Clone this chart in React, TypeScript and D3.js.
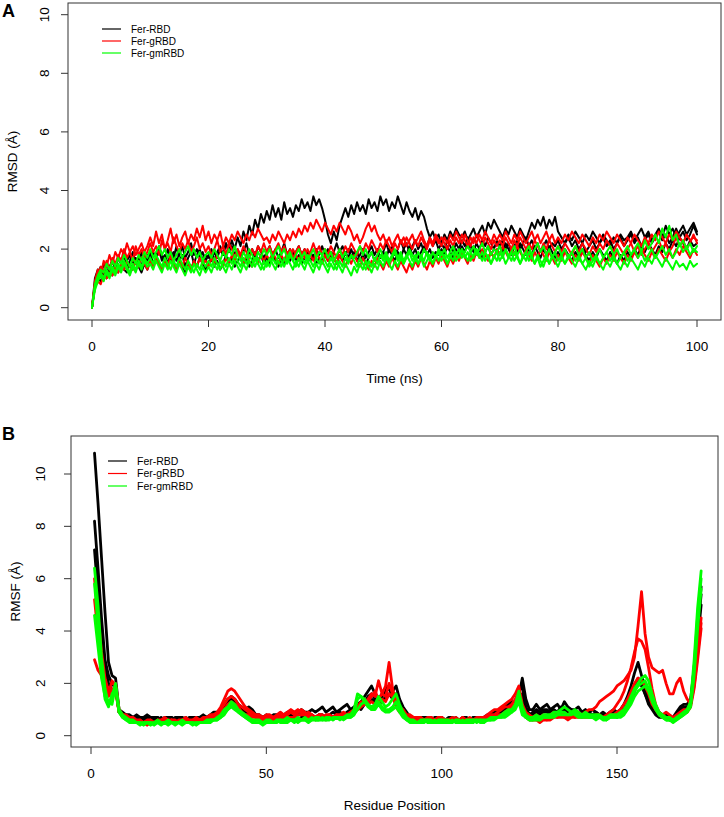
import React from 'react';
import * as d3 from 'd3';

// ---------- Data ----------
const seriesNames = ['Fer-RBD', 'Fer-gRBD', 'Fer-gmRBD'];
const seriesColors = ['#000000', '#ff0000', '#00ff00'];

const rmsdTimeStep = 0.5; // ns between samples
const rmsdTicksX = [0, 20, 40, 60, 80, 100];
const yTicks = [0, 2, 4, 6, 8, 10];
const rmsfTicksX = [0, 50, 100, 150];

// RMSD (Å), Fer-RBD replicates
const rmsdBlack1 = [
  0, 1.0, 1.3, 1.1, 1.5, 1.2, 1.4, 1.6, 1.3, 1.7, 1.5, 1.8, 1.4, 1.6, 1.9, 1.5, 1.7, 1.4, 1.8, 1.6,
  1.9, 1.5, 1.7, 2.0, 1.6, 1.8, 1.5, 1.9, 1.7, 2.1, 1.6, 1.8, 1.4, 1.7, 1.9, 1.5, 1.8, 2.0, 1.6, 1.8,
  1.7, 2.0, 1.6, 1.9, 2.1, 1.8, 2.2, 1.9, 2.3, 2.0, 2.4, 2.1, 2.6, 2.3, 2.8, 2.5, 3.0, 2.7, 3.2, 2.9,
  3.3, 3.0, 3.5, 3.1, 3.4, 3.0, 3.6, 3.2, 3.4, 3.1, 3.5, 3.3, 3.7, 3.4, 3.6, 3.3, 3.8, 3.5, 3.7, 3.4,
  3.0, 2.5, 2.2, 2.6, 2.3, 2.8, 3.1, 3.4, 3.1, 3.5, 3.2, 3.6, 3.3, 3.5, 3.2, 3.7, 3.4, 3.6, 3.3, 3.8,
  3.5, 3.7, 3.3, 3.6, 3.4, 3.8, 3.5, 3.2, 3.6, 3.3, 3.1, 3.4, 3.0, 3.3, 3.1, 2.7, 2.4, 2.6, 2.3, 2.5,
  2.2, 2.5, 2.3, 2.6, 2.4, 2.7, 2.5, 2.4, 2.6, 2.3, 2.5, 2.7, 2.4, 2.6, 2.8, 2.5, 2.9, 2.7, 3.0, 2.8,
  2.6, 2.4, 2.7, 2.5, 2.8, 2.6, 2.4, 2.7, 2.5, 2.3, 2.6, 2.9, 2.7, 3.0, 2.8, 3.1, 2.7, 3.0, 2.8, 3.1,
  2.6, 2.4, 2.2, 2.5, 2.3, 2.6, 2.4, 2.2, 2.5, 2.3, 2.6, 2.4, 2.2, 2.5, 2.3, 2.1, 2.4, 2.2, 2.5, 2.3,
  2.4, 2.6, 2.3, 2.5, 2.7, 2.4, 2.6, 2.3, 2.5, 2.7, 2.4, 2.8, 2.5, 2.7, 2.4, 2.6, 2.8, 2.5, 2.7, 2.9,
  2.6,
];
const rmsdBlack2 = [
  0, 0.8, 1.2, 1.4, 1.1, 1.5, 1.3, 1.6, 1.4, 1.7, 1.5, 1.3, 1.6, 1.8, 1.5, 1.7, 1.4, 1.9, 1.6, 1.8,
  1.6, 1.9, 1.7, 2.1, 1.8, 1.6, 2.0, 1.7, 1.9, 1.6, 1.8, 2.1, 1.7, 1.9, 2.2, 1.8, 2.0, 1.7, 1.9, 1.6,
  1.8, 1.6, 1.9, 1.7, 2.0, 1.8, 2.2, 1.9, 2.1, 1.8, 2.0, 1.7, 1.9, 2.2, 1.8, 2.0, 1.7, 2.1, 1.9, 1.7,
  1.9, 2.1, 1.8, 2.0, 1.7, 1.9, 2.2, 1.8, 2.0, 1.7, 1.9, 2.1, 1.8, 2.0, 1.6, 1.9, 1.7, 2.0, 1.8, 2.1,
  1.8, 2.0, 1.7, 1.9, 2.2, 1.9, 2.1, 1.8, 2.0, 1.7, 1.9, 1.6, 1.8, 2.0, 1.7, 1.9, 2.1, 1.8, 2.0, 1.7,
  1.9, 2.2, 1.9, 2.1, 1.8, 2.0, 2.3, 2.0, 2.2, 1.9, 2.1, 2.3, 2.0, 2.2, 1.9, 2.1, 2.4, 2.1, 2.3, 2.0,
  2.2, 2.0, 2.3, 2.1, 1.9, 2.2, 2.0, 2.3, 2.1, 2.4, 2.1, 1.9, 2.2, 2.0, 2.3, 2.1, 2.4, 2.2, 2.0, 2.3,
  2.1, 2.3, 2.0, 2.2, 1.9, 2.1, 2.3, 2.0, 2.2, 2.4, 2.1, 2.3, 2.0, 2.2, 1.9, 2.1, 2.3, 2.0, 2.2, 2.1,
  2.3, 2.0, 2.2, 2.4, 2.1, 2.3, 2.0, 2.2, 1.9, 2.1, 2.3, 2.0, 2.2, 2.4, 2.1, 2.3, 2.0, 2.2, 2.4, 2.1,
  2.3, 2.5, 2.2, 2.4, 2.1, 2.3, 2.5, 2.2, 2.4, 2.6, 2.3, 2.5, 2.2, 2.4, 2.7, 2.4, 2.6, 2.3, 2.5, 2.8,
  2.5,
];
const rmsdBlack3 = [
  0, 0.7, 1.0, 0.9, 1.2, 1.0, 1.3, 1.1, 1.4, 1.2, 1.5, 1.3, 1.2, 1.5, 1.3, 1.6, 1.4, 1.2, 1.5, 1.3,
  1.6, 1.4, 1.7, 1.5, 1.3, 1.6, 1.4, 1.7, 1.5, 1.3, 1.6, 1.4, 1.2, 1.5, 1.3, 1.6, 1.4, 1.7, 1.5, 1.3,
  1.5, 1.7, 1.4, 1.6, 1.3, 1.5, 1.8, 1.5, 1.7, 1.4, 1.6, 1.8, 1.5, 1.7, 1.4, 1.6, 1.9, 1.6, 1.8, 1.5,
  1.7, 1.5, 1.8, 1.6, 1.4, 1.7, 1.5, 1.8, 1.6, 1.9, 1.6, 1.8, 1.5, 1.7, 1.9, 1.6, 1.8, 1.5, 1.7, 1.6,
  1.8, 1.6, 1.9, 1.7, 1.5, 1.8, 1.6, 1.9, 1.7, 2.0, 1.7, 1.9, 1.6, 1.8, 1.5, 1.7, 1.9, 1.6, 1.8, 1.7,
  1.9, 1.7, 2.0, 1.8, 1.6, 1.9, 1.7, 2.0, 1.8, 2.1, 1.8, 2.0, 1.7, 1.9, 2.1, 1.8, 2.0, 1.7, 1.9, 1.8,
  2.0, 1.8, 2.1, 1.9, 1.7, 2.0, 1.8, 2.1, 1.9, 2.2, 1.9, 2.1, 1.8, 2.0, 1.7, 1.9, 2.1, 1.8, 2.0, 1.9,
  2.1, 1.9, 2.2, 2.0, 1.8, 2.1, 1.9, 2.2, 2.0, 1.8, 2.0, 1.8, 2.1, 1.9, 1.7, 2.0, 1.8, 2.1, 1.9, 1.7,
  1.9, 1.7, 2.0, 1.8, 1.6, 1.9, 1.7, 2.0, 1.8, 1.6, 1.9, 1.7, 2.0, 1.8, 1.6, 1.9, 1.7, 1.5, 1.8, 1.6,
  1.9, 1.7, 2.0, 1.8, 2.1, 1.9, 2.2, 2.0, 1.8, 2.1, 1.9, 2.2, 2.0, 2.3, 2.1, 2.4, 2.2, 2.0, 2.3, 2.1,
  2.2,
];
// RMSD (Å), Fer-gRBD replicates
const rmsdRed1 = [
  0, 0.9, 1.3, 1.1, 1.6, 1.4, 1.8, 1.5, 1.9, 1.7, 2.0, 1.8, 2.2, 1.9, 2.1, 1.8, 2.0, 2.2, 1.9, 2.1,
  2.4, 2.1, 2.6, 2.2, 2.5, 2.0, 2.3, 2.7, 2.2, 2.5, 2.1, 2.4, 2.6, 2.2, 2.5, 2.3, 2.7, 2.4, 2.8, 2.3,
  2.6, 2.2, 2.5, 2.3, 2.6, 2.1, 2.4, 2.2, 2.5, 2.3, 2.6, 2.4, 2.2, 2.5, 2.3, 2.6, 2.4, 2.7, 2.5, 2.3,
  2.4, 2.2, 2.5, 2.3, 2.6, 2.4, 2.2, 2.5, 2.3, 2.6, 2.4, 2.7, 2.5, 2.8, 2.6, 2.9, 2.7, 3.0, 2.8, 2.6,
  2.9, 2.7, 2.5, 2.8, 2.6, 2.9, 2.7, 2.5, 2.8, 2.6, 2.3, 2.5, 2.2, 2.4, 2.7, 2.9, 2.6, 2.8, 2.5, 2.3,
  2.5, 2.2, 2.4, 2.1, 2.3, 2.5, 2.2, 2.4, 2.1, 2.3, 2.5, 2.2, 2.4, 2.6, 2.3, 2.1, 2.4, 2.2, 2.5, 2.3,
  2.1, 2.4, 2.2, 2.5, 2.3, 2.6, 2.4, 2.2, 2.5, 2.3, 2.1, 2.4, 2.2, 2.5, 2.3, 2.6, 2.4, 2.2, 2.5, 2.3,
  2.5, 2.3, 2.6, 2.4, 2.2, 2.5, 2.3, 2.6, 2.4, 2.2, 2.4, 2.6, 2.3, 2.5, 2.2, 2.4, 2.6, 2.3, 2.5, 2.2,
  2.4, 2.2, 2.5, 2.3, 2.6, 2.4, 2.2, 2.5, 2.3, 2.1, 2.4, 2.2, 2.5, 2.3, 2.6, 2.4, 2.2, 2.5, 2.3, 2.1,
  2.4, 2.2, 2.5, 2.3, 2.1, 2.4, 2.2, 2.5, 2.3, 2.6, 2.4, 2.2, 2.5, 2.3, 2.6, 2.4, 2.2, 2.5, 2.3, 2.4,
  2.3,
];
const rmsdRed2 = [
  0, 0.8, 1.1, 1.4, 1.2, 1.6, 1.3, 1.7, 1.5, 1.8, 1.6, 2.0, 1.7, 1.9, 1.6, 2.1, 1.8, 2.0, 1.7, 1.9,
  2.2, 1.9, 2.1, 1.8, 2.3, 2.0, 2.2, 1.9, 2.4, 2.1, 1.9, 2.2, 2.0, 2.3, 1.9, 2.1, 2.4, 2.0, 2.2, 1.9,
  2.1, 1.8, 2.0, 2.3, 1.9, 2.1, 1.8, 2.2, 2.0, 1.7, 2.0, 1.8, 2.1, 1.9, 1.7, 2.0, 1.8, 2.1, 1.9, 2.2,
  1.9, 2.1, 1.8, 2.0, 2.2, 1.9, 2.1, 1.8, 2.0, 1.7, 1.9, 2.1, 1.8, 2.0, 1.7, 1.9, 2.2, 1.9, 2.1, 1.8,
  2.0, 1.8, 2.1, 1.9, 1.7, 2.0, 1.8, 2.1, 1.9, 2.2, 2.0, 1.8, 2.1, 1.9, 2.2, 2.0, 2.3, 2.1, 1.9, 2.2,
  2.0, 2.3, 2.1, 1.9, 2.2, 2.0, 2.3, 2.1, 2.4, 2.2, 2.0, 2.3, 2.1, 2.4, 2.2, 2.0, 2.3, 2.1, 2.4, 2.2,
  2.4, 2.2, 2.0, 2.3, 2.1, 2.4, 2.2, 2.5, 2.3, 2.1, 2.4, 2.2, 2.5, 2.3, 2.1, 2.4, 2.2, 2.0, 2.3, 2.1,
  2.3, 2.1, 2.4, 2.2, 2.0, 2.3, 2.1, 2.4, 2.2, 2.0, 2.2, 2.0, 2.3, 2.1, 1.9, 2.2, 2.0, 2.3, 2.1, 1.9,
  2.1, 1.9, 2.2, 2.0, 1.8, 2.1, 1.9, 2.2, 2.0, 1.8, 2.1, 1.9, 2.2, 2.0, 2.3, 2.1, 1.9, 2.2, 2.0, 1.8,
  2.0, 2.2, 1.9, 2.1, 1.8, 2.0, 2.2, 1.9, 2.1, 2.3, 2.0, 2.2, 1.9, 2.1, 2.4, 2.1, 2.3, 2.0, 2.2, 2.5,
  2.2,
];
const rmsdRed3 = [
  0, 0.7, 0.9, 0.8, 1.1, 1.0, 1.2, 1.1, 1.4, 1.2, 1.5, 1.3, 1.6, 1.4, 1.3, 1.6, 1.4, 1.7, 1.5, 1.3,
  1.6, 1.4, 1.7, 1.5, 1.3, 1.6, 1.4, 1.8, 1.5, 1.3, 1.6, 1.4, 1.7, 1.5, 1.3, 1.6, 1.4, 1.7, 1.5, 1.6,
  1.4, 1.7, 1.5, 1.8, 1.6, 1.4, 1.7, 1.5, 1.8, 1.6, 1.9, 1.7, 1.5, 1.8, 1.6, 1.4, 1.7, 1.5, 1.8, 1.6,
  1.8, 1.6, 1.9, 1.7, 1.5, 1.8, 1.6, 1.9, 1.7, 2.0, 1.8, 1.6, 1.9, 1.7, 2.0, 1.8, 1.6, 1.9, 1.7, 1.5,
  1.8, 1.6, 1.9, 1.7, 1.5, 1.8, 1.6, 1.4, 1.7, 1.5, 1.8, 1.6, 1.4, 1.7, 1.5, 1.3, 1.6, 1.4, 1.7, 1.5,
  1.3, 1.6, 1.4, 1.7, 1.5, 1.3, 1.6, 1.4, 1.2, 1.5, 1.3, 1.6, 1.4, 1.7, 1.5, 1.3, 1.6, 1.4, 1.7, 1.5,
  1.8, 1.6, 1.4, 1.7, 1.5, 1.8, 1.6, 1.9, 1.7, 1.5, 1.8, 1.6, 1.9, 1.7, 2.0, 1.8, 1.6, 1.9, 1.7, 2.0,
  1.8, 2.1, 1.9, 1.7, 2.0, 1.8, 2.1, 1.9, 1.7, 2.0, 1.8, 1.6, 1.9, 1.7, 2.0, 1.8, 1.6, 1.9, 1.7, 1.5,
  1.8, 1.6, 1.9, 1.7, 1.5, 1.8, 1.6, 1.9, 1.7, 1.5, 1.8, 1.6, 1.4, 1.7, 1.5, 1.8, 1.6, 1.9, 1.7, 1.5,
  1.8, 1.6, 1.9, 1.7, 2.0, 1.8, 1.6, 1.9, 1.7, 2.0, 1.8, 1.6, 1.9, 1.7, 2.0, 1.8, 2.1, 1.9, 1.7, 2.0,
  1.8,
];
// RMSD (Å), Fer-gmRBD replicates
const rmsdGreen1 = [
  0, 0.8, 1.1, 1.3, 1.2, 1.5, 1.3, 1.6, 1.4, 1.7, 1.5, 1.8, 1.6, 1.4, 1.7, 1.5, 1.8, 1.6, 1.9, 1.7,
  2.0, 1.7, 1.9, 2.1, 1.8, 2.0, 1.7, 1.9, 1.6, 1.8, 2.0, 1.7, 1.9, 2.1, 1.8, 2.0, 1.7, 1.9, 1.6, 1.8,
  1.9, 1.7, 2.0, 1.8, 1.6, 1.9, 1.7, 2.0, 1.8, 2.1, 1.8, 1.6, 1.9, 1.7, 2.0, 1.8, 1.6, 1.9, 1.7, 2.0,
  1.8, 2.0, 1.7, 1.9, 2.1, 1.8, 2.0, 1.7, 1.9, 1.6, 1.8, 2.0, 1.7, 1.9, 1.6, 1.8, 2.0, 1.7, 1.9, 1.8,
  2.0, 1.7, 1.9, 1.6, 1.8, 2.0, 1.7, 1.9, 1.6, 1.8, 1.7, 1.9, 2.1, 1.8, 2.0, 1.7, 1.9, 1.6, 1.8, 2.0,
  1.7, 1.9, 1.6, 1.8, 2.0, 1.7, 1.9, 1.6, 1.8, 2.0, 1.8, 1.6, 1.9, 1.7, 2.0, 1.8, 1.6, 1.9, 1.7, 2.0,
  1.8, 2.0, 1.7, 1.9, 2.1, 1.8, 2.0, 1.7, 1.9, 2.1, 1.9, 2.1, 1.8, 2.0, 2.2, 1.9, 2.1, 1.8, 2.0, 1.9,
  2.1, 1.8, 2.0, 1.7, 1.9, 2.1, 1.8, 2.0, 1.7, 1.9, 2.1, 1.8, 2.0, 2.2, 1.9, 2.1, 1.8, 2.0, 1.7, 1.9,
  2.1, 1.8, 2.0, 1.7, 1.9, 2.1, 1.8, 2.0, 1.7, 1.9, 1.6, 1.8, 2.0, 1.7, 1.9, 2.1, 1.8, 2.0, 1.7, 1.9,
  2.1, 1.8, 2.0, 2.2, 1.9, 2.3, 2.0, 2.2, 2.5, 2.2, 2.7, 2.4, 2.8, 2.3, 2.5, 2.1, 2.3, 2.0, 2.2, 1.9,
  2.1,
];
const rmsdGreen2 = [
  0, 0.7, 1.0, 1.2, 1.0, 1.3, 1.1, 1.4, 1.2, 1.5, 1.3, 1.6, 1.4, 1.2, 1.5, 1.3, 1.6, 1.4, 1.7, 1.5,
  1.7, 1.5, 1.8, 1.6, 1.4, 1.7, 1.5, 1.3, 1.6, 1.4, 1.7, 1.5, 1.3, 1.6, 1.4, 1.2, 1.5, 1.3, 1.6, 1.4,
  1.6, 1.4, 1.7, 1.5, 1.3, 1.6, 1.4, 1.7, 1.5, 1.8, 1.6, 1.4, 1.7, 1.5, 1.8, 1.6, 1.4, 1.7, 1.5, 1.3,
  1.6, 1.4, 1.7, 1.5, 1.8, 1.6, 1.4, 1.7, 1.5, 1.3, 1.6, 1.4, 1.7, 1.5, 1.8, 1.6, 1.4, 1.7, 1.5, 1.8,
  1.6, 1.4, 1.7, 1.5, 1.3, 1.6, 1.4, 1.7, 1.5, 1.8, 1.6, 1.4, 1.7, 1.5, 1.3, 1.6, 1.4, 1.7, 1.5, 1.8,
  1.6, 1.8, 1.5, 1.7, 1.9, 1.6, 1.8, 1.5, 1.7, 1.9, 1.6, 1.8, 1.5, 1.7, 1.4, 1.6, 1.8, 1.5, 1.7, 1.9,
  1.6, 1.8, 1.5, 1.7, 1.9, 1.6, 1.8, 2.0, 1.7, 1.9, 1.6, 1.8, 2.0, 1.7, 1.9, 1.6, 1.8, 1.5, 1.7, 1.9,
  1.6, 1.8, 1.5, 1.7, 1.9, 1.6, 1.8, 1.5, 1.7, 1.9, 1.6, 1.8, 1.5, 1.7, 1.4, 1.6, 1.8, 1.5, 1.7, 1.9,
  1.6, 1.8, 1.5, 1.7, 1.9, 1.6, 1.8, 1.5, 1.7, 1.4, 1.6, 1.8, 1.5, 1.7, 1.9, 1.6, 1.8, 1.5, 1.7, 1.9,
  1.6, 1.8, 2.0, 1.7, 1.9, 1.6, 1.8, 2.0, 1.7, 1.9, 2.1, 1.8, 2.0, 1.7, 1.9, 2.2, 1.9, 2.1, 1.8, 2.0,
  1.9,
];
const rmsdGreen3 = [
  0, 0.6, 0.9, 1.1, 0.9, 1.2, 1.0, 1.3, 1.1, 1.4, 1.2, 1.5, 1.3, 1.1, 1.4, 1.2, 1.5, 1.3, 1.6, 1.4,
  1.5, 1.3, 1.6, 1.4, 1.2, 1.5, 1.3, 1.6, 1.4, 1.2, 1.5, 1.3, 1.1, 1.4, 1.2, 1.5, 1.3, 1.1, 1.4, 1.2,
  1.4, 1.2, 1.5, 1.3, 1.6, 1.4, 1.2, 1.5, 1.3, 1.6, 1.4, 1.2, 1.5, 1.3, 1.6, 1.4, 1.7, 1.5, 1.3, 1.6,
  1.4, 1.7, 1.5, 1.3, 1.6, 1.4, 1.7, 1.5, 1.8, 1.6, 1.4, 1.7, 1.5, 1.3, 1.6, 1.4, 1.2, 1.5, 1.3, 1.6,
  1.4, 1.2, 1.5, 1.3, 1.6, 1.4, 1.2, 1.5, 1.3, 1.1, 1.4, 1.2, 1.5, 1.3, 1.6, 1.4, 1.2, 1.5, 1.3, 1.6,
  1.4, 1.7, 1.5, 1.3, 1.6, 1.4, 1.7, 1.5, 1.8, 1.6, 1.4, 1.7, 1.5, 1.8, 1.6, 1.9, 1.7, 1.5, 1.8, 1.6,
  1.9, 1.7, 1.5, 1.8, 1.6, 1.9, 1.7, 2.0, 1.8, 1.6, 1.9, 1.7, 2.0, 1.8, 1.6, 1.9, 1.7, 1.5, 1.8, 1.6,
  1.9, 1.7, 2.0, 1.8, 1.6, 1.9, 1.7, 1.5, 1.8, 1.6, 1.9, 1.7, 1.5, 1.8, 1.6, 1.4, 1.7, 1.5, 1.8, 1.6,
  1.4, 1.7, 1.5, 1.8, 1.6, 1.4, 1.7, 1.5, 1.3, 1.6, 1.4, 1.7, 1.5, 1.3, 1.6, 1.4, 1.7, 1.5, 1.3, 1.6,
  1.4, 1.7, 1.5, 1.3, 1.6, 1.4, 1.7, 1.5, 1.8, 1.6, 1.4, 1.7, 1.5, 1.3, 1.6, 1.4, 1.5, 1.3, 1.6, 1.4,
  1.5,
];

// RMSF (Å) per residue (residue 1..174)
const rmsfBlack1 = [
  10.8, 8.9, 6.8, 4.7, 2.8, 2.3, 2.2, 1.0, 0.9, 0.8,
  0.8, 0.7, 0.8, 0.7, 0.7, 0.8, 0.7, 0.7, 0.7, 0.6,
  0.7, 0.7, 0.6, 0.7, 0.7, 0.7, 0.6, 0.7, 0.7, 0.7,
  0.7, 0.8, 0.7, 0.8, 0.9, 0.9, 1.0, 1.2, 1.4, 1.5,
  1.4, 1.2, 1.1, 1.0, 1.1, 1.0, 0.8, 0.8, 0.7, 0.8,
  0.7, 0.8, 0.8, 0.7, 0.8, 0.9, 0.8, 0.9, 0.9, 1.0,
  0.9, 0.9, 1.0, 0.9, 1.0, 1.1, 0.9, 1.0, 1.1, 0.9,
  1.0, 1.1, 1.2, 1.0, 1.1, 1.2, 1.3, 1.5, 1.7, 1.9,
  1.6, 1.4, 1.6, 1.8, 1.9, 1.7, 1.9, 1.4, 1.1, 0.9,
  0.7, 0.7, 0.6, 0.7, 0.7, 0.7, 0.6, 0.7, 0.7, 0.7,
  0.6, 0.7, 0.7, 0.6, 0.6, 0.7, 0.7, 0.6, 0.7, 0.7,
  0.7, 0.7, 0.8, 0.8, 0.9, 0.9, 1.0, 1.1, 1.2, 1.3,
  1.3, 1.5, 2.2, 1.4, 1.0, 1.0, 1.2, 1.0, 1.1, 1.2,
  1.0, 1.1, 1.2, 1.0, 1.3, 1.1, 1.0, 1.0, 1.1, 0.9,
  1.0, 0.9, 1.0, 0.9, 0.8, 0.9, 0.8, 0.9, 1.0, 0.9,
  1.0, 1.2, 1.5, 1.9, 2.4, 2.8, 2.3, 1.8, 1.5, 1.2,
  1.0, 0.9, 0.8, 0.8, 0.7, 0.7, 0.9, 1.1, 1.2, 1.2,
  1.4, 2.6, 4.2, 5.7,
];
const rmsfBlack2 = [
  8.2, 6.4, 4.5, 2.9, 2.3, 2.0, 1.8, 0.9, 0.8, 0.8,
  0.7, 0.7, 0.7, 0.6, 0.7, 0.7, 0.6, 0.7, 0.6, 0.7,
  0.6, 0.7, 0.7, 0.6, 0.7, 0.6, 0.7, 0.6, 0.7, 0.6,
  0.7, 0.7, 0.6, 0.7, 0.8, 0.8, 0.9, 1.1, 1.3, 1.4,
  1.3, 1.1, 1.0, 0.9, 1.0, 0.9, 0.8, 0.7, 0.7, 0.6,
  0.7, 0.7, 0.6, 0.7, 0.7, 0.7, 0.8, 0.7, 0.8, 0.8,
  0.7, 0.8, 0.8, 0.7, 0.8, 0.8, 0.7, 0.8, 0.9, 0.8,
  0.9, 0.8, 0.9, 1.0, 0.9, 1.1, 1.2, 1.3, 1.5, 1.6,
  1.4, 1.3, 1.5, 1.7, 1.8, 1.5, 1.6, 1.2, 1.0, 0.8,
  0.7, 0.6, 0.6, 0.7, 0.6, 0.6, 0.7, 0.6, 0.6, 0.7,
  0.6, 0.6, 0.7, 0.6, 0.6, 0.6, 0.7, 0.6, 0.6, 0.7,
  0.6, 0.7, 0.7, 0.7, 0.8, 0.8, 0.9, 1.0, 1.1, 1.1,
  1.2, 1.7, 1.9, 1.1, 0.8, 0.9, 1.0, 0.9, 1.0, 1.0,
  0.9, 1.0, 0.9, 1.1, 1.0, 0.9, 1.0, 0.9, 0.9, 0.8,
  0.9, 0.9, 0.8, 0.9, 0.8, 0.8, 0.7, 0.8, 0.9, 0.8,
  0.9, 1.0, 1.2, 1.5, 1.9, 2.2, 2.0, 1.6, 1.3, 1.1,
  0.9, 0.8, 0.8, 0.7, 0.7, 0.6, 0.8, 1.0, 1.1, 1.1,
  1.3, 2.4, 4.0, 5.4,
];
const rmsfBlack3 = [
  7.1, 5.4, 3.8, 2.6, 2.0, 1.7, 1.9, 0.9, 0.8, 0.7,
  0.7, 0.6, 0.7, 0.6, 0.6, 0.7, 0.6, 0.6, 0.7, 0.6,
  0.6, 0.6, 0.7, 0.6, 0.6, 0.7, 0.6, 0.6, 0.6, 0.7,
  0.6, 0.7, 0.7, 0.6, 0.7, 0.7, 0.8, 1.0, 1.1, 1.3,
  1.2, 1.0, 0.9, 0.8, 0.9, 0.8, 0.7, 0.6, 0.6, 0.6,
  0.6, 0.6, 0.7, 0.6, 0.7, 0.6, 0.7, 0.7, 0.6, 0.7,
  0.7, 0.6, 0.7, 0.7, 0.8, 0.7, 0.7, 0.8, 0.7, 0.8,
  0.8, 0.7, 0.8, 0.9, 1.0, 1.1, 1.0, 1.2, 1.3, 1.4,
  1.3, 1.2, 1.3, 1.5, 1.6, 1.4, 1.3, 1.1, 0.9, 0.7,
  0.6, 0.6, 0.6, 0.6, 0.7, 0.6, 0.6, 0.6, 0.7, 0.6,
  0.6, 0.6, 0.6, 0.7, 0.6, 0.6, 0.6, 0.6, 0.7, 0.6,
  0.6, 0.6, 0.7, 0.7, 0.7, 0.8, 0.8, 0.9, 1.0, 1.0,
  1.1, 1.4, 1.6, 1.0, 0.8, 0.8, 0.9, 0.8, 0.9, 0.9,
  0.8, 0.9, 0.9, 1.0, 0.9, 0.8, 0.9, 0.8, 0.8, 0.8,
  0.8, 0.8, 0.7, 0.8, 0.8, 0.7, 0.7, 0.8, 0.8, 0.7,
  0.8, 0.9, 1.1, 1.3, 1.7, 2.0, 1.9, 1.6, 1.2, 1.0,
  0.8, 0.7, 0.7, 0.7, 0.6, 0.6, 0.7, 0.9, 1.0, 1.0,
  1.2, 2.2, 3.6, 5.0,
];
const rmsfRed1 = [
  2.9, 2.5, 2.3, 1.8, 1.6, 2.1, 1.9, 0.9, 0.8, 0.8,
  0.7, 0.7, 0.6, 0.6, 0.5, 0.6, 0.6, 0.5, 0.6, 0.6,
  0.7, 0.6, 0.6, 0.5, 0.6, 0.6, 0.7, 0.6, 0.6, 0.7,
  0.6, 0.7, 0.7, 0.8, 0.8, 0.9, 1.1, 1.4, 1.7, 1.8,
  1.7, 1.5, 1.3, 1.1, 1.0, 0.9, 0.8, 0.8, 0.7, 0.8,
  0.8, 0.7, 0.8, 0.9, 0.8, 0.9, 1.0, 0.9, 1.0, 0.9,
  0.8, 0.9, 0.8, 0.7, 0.8, 0.7, 0.8, 0.8, 0.7, 0.8,
  0.8, 0.9, 0.8, 0.9, 1.0, 1.1, 1.3, 1.2, 1.4, 1.6,
  1.5, 2.1, 1.6, 1.9, 2.8, 1.8, 1.3, 1.1, 1.0, 0.8,
  0.8, 0.7, 0.7, 0.7, 0.6, 0.7, 0.7, 0.6, 0.7, 0.7,
  0.6, 0.6, 0.7, 0.6, 0.6, 0.7, 0.6, 0.6, 0.6, 0.7,
  0.7, 0.7, 0.8, 0.9, 1.0, 1.0, 1.1, 1.2, 1.3, 1.4,
  1.6, 1.9, 1.2, 0.9, 0.8, 0.7, 0.8, 0.7, 0.8, 0.7,
  0.8, 0.9, 0.8, 0.9, 0.8, 0.8, 0.9, 0.8, 0.9, 0.8,
  0.9, 1.0, 1.0, 1.1, 1.3, 1.4, 1.5, 1.6, 1.7, 1.9,
  2.0, 2.1, 2.3, 2.5, 3.0, 4.2, 5.5, 3.9, 3.0, 2.6,
  2.5, 2.4, 2.5, 2.0, 1.6, 1.6, 2.0, 2.2, 1.7, 1.4,
  1.2, 1.9, 3.1, 4.3,
];
const rmsfRed2 = [
  6.0, 4.6, 3.2, 2.2, 1.7, 1.5, 2.0, 1.0, 0.8, 0.7,
  0.6, 0.6, 0.5, 0.6, 0.5, 0.5, 0.6, 0.5, 0.6, 0.5,
  0.6, 0.5, 0.6, 0.6, 0.5, 0.6, 0.6, 0.5, 0.6, 0.6,
  0.6, 0.6, 0.7, 0.7, 0.8, 0.8, 1.0, 1.2, 1.4, 1.5,
  1.4, 1.2, 1.1, 1.0, 0.9, 0.8, 0.7, 0.7, 0.6, 0.7,
  0.7, 0.6, 0.7, 0.8, 0.7, 0.8, 0.9, 0.8, 0.9, 1.0,
  0.9, 0.8, 0.8, 0.7, 0.8, 0.8, 0.7, 0.8, 0.7, 0.8,
  0.7, 0.8, 0.8, 0.9, 0.9, 1.0, 1.2, 1.4, 1.3, 1.5,
  1.7, 1.4, 1.6, 1.5, 2.0, 1.6, 1.2, 1.0, 0.9, 0.7,
  0.7, 0.6, 0.6, 0.7, 0.6, 0.6, 0.7, 0.6, 0.6, 0.7,
  0.6, 0.6, 0.6, 0.7, 0.6, 0.6, 0.6, 0.7, 0.6, 0.6,
  0.6, 0.7, 0.7, 0.8, 0.8, 0.9, 1.0, 1.1, 1.1, 1.2,
  1.4, 1.7, 1.0, 0.8, 0.7, 0.6, 0.7, 0.6, 0.7, 0.6,
  0.7, 0.8, 0.7, 0.8, 0.7, 0.7, 0.8, 0.7, 0.8, 0.7,
  0.8, 0.8, 0.7, 0.8, 0.8, 0.7, 0.8, 0.9, 1.0, 1.2,
  1.4, 1.7, 2.1, 2.6, 3.2, 3.7, 3.6, 3.3, 2.6, 1.8,
  1.2, 0.9, 0.8, 0.9, 0.8, 0.7, 0.8, 0.9, 1.0, 1.0,
  1.2, 2.0, 3.2, 4.5,
];
const rmsfRed3 = [
  5.2, 3.9, 2.7, 2.0, 1.5, 1.8, 1.7, 0.9, 0.8, 0.7,
  0.6, 0.5, 0.5, 0.5, 0.5, 0.4, 0.5, 0.5, 0.5, 0.5,
  0.5, 0.5, 0.6, 0.5, 0.5, 0.5, 0.6, 0.5, 0.5, 0.6,
  0.5, 0.6, 0.6, 0.6, 0.7, 0.7, 0.9, 1.0, 1.2, 1.3,
  1.2, 1.1, 0.9, 0.8, 0.8, 0.7, 0.7, 0.6, 0.6, 0.6,
  0.6, 0.6, 0.6, 0.7, 0.6, 0.7, 0.7, 0.7, 0.8, 0.8,
  0.8, 0.7, 0.7, 0.6, 0.7, 0.7, 0.6, 0.7, 0.7, 0.8,
  0.7, 0.7, 0.8, 0.8, 0.9, 1.0, 1.1, 1.2, 1.2, 1.3,
  1.2, 1.3, 1.4, 1.3, 1.6, 1.5, 1.1, 0.9, 0.8, 0.7,
  0.6, 0.6, 0.6, 0.6, 0.6, 0.6, 0.6, 0.6, 0.7, 0.6,
  0.6, 0.6, 0.6, 0.6, 0.6, 0.7, 0.6, 0.6, 0.6, 0.6,
  0.6, 0.6, 0.6, 0.7, 0.7, 0.8, 0.8, 0.9, 1.0, 1.1,
  1.2, 1.5, 0.9, 0.7, 0.6, 0.6, 0.6, 0.5, 0.6, 0.6,
  0.6, 0.7, 0.7, 0.7, 0.7, 0.6, 0.7, 0.7, 0.7, 0.7,
  0.7, 0.7, 0.7, 0.7, 0.7, 0.7, 0.7, 0.8, 0.8, 0.9,
  1.0, 1.2, 1.4, 1.7, 2.0, 2.2, 2.1, 1.9, 1.6, 1.2,
  1.0, 0.8, 0.7, 0.7, 0.6, 0.6, 0.7, 0.8, 0.9, 0.9,
  1.1, 1.8, 2.9, 4.1,
];
const rmsfGreen1 = [
  6.4, 5.0, 3.0, 1.8, 1.2, 1.5, 2.0, 1.0, 0.8, 0.7,
  0.6, 0.6, 0.5, 0.5, 0.5, 0.5, 0.5, 0.5, 0.6, 0.5,
  0.5, 0.6, 0.5, 0.5, 0.5, 0.6, 0.5, 0.5, 0.5, 0.5,
  0.5, 0.5, 0.6, 0.6, 0.6, 0.7, 0.8, 1.0, 1.1, 1.3,
  1.2, 1.0, 0.9, 0.8, 0.7, 0.6, 0.6, 0.6, 0.5, 0.6,
  0.6, 0.5, 0.6, 0.6, 0.6, 0.7, 0.6, 0.6, 0.7, 0.6,
  0.7, 0.6, 0.6, 0.7, 0.7, 0.6, 0.7, 0.7, 0.6, 0.7,
  0.7, 0.7, 0.8, 0.8, 1.0, 1.6, 1.5, 1.3, 1.2, 1.1,
  1.2, 1.5, 1.3, 1.1, 1.2, 1.4, 1.6, 1.2, 0.9, 0.7,
  0.6, 0.6, 0.5, 0.6, 0.6, 0.6, 0.6, 0.5, 0.6, 0.6,
  0.6, 0.6, 0.5, 0.6, 0.6, 0.5, 0.6, 0.6, 0.6, 0.6,
  0.6, 0.6, 0.6, 0.7, 0.7, 0.7, 0.8, 0.9, 1.0, 1.0,
  1.2, 1.7, 1.1, 0.8, 0.7, 0.7, 0.8, 0.7, 0.8, 0.8,
  0.8, 0.9, 0.9, 1.0, 1.1, 1.0, 0.9, 1.0, 0.9, 0.8,
  0.9, 0.8, 0.8, 0.8, 0.8, 0.7, 0.7, 0.8, 0.8, 0.8,
  0.9, 1.0, 1.2, 1.5, 1.8, 2.0, 2.2, 2.3, 2.1, 1.6,
  1.2, 0.9, 0.8, 0.7, 0.7, 0.6, 0.7, 0.8, 0.9, 1.0,
  1.3, 2.9, 4.9, 6.3,
];
const rmsfGreen2 = [
  5.8, 4.2, 2.5, 1.4, 1.1, 1.6, 1.8, 0.9, 0.7, 0.6,
  0.6, 0.5, 0.5, 0.5, 0.4, 0.5, 0.5, 0.4, 0.5, 0.5,
  0.5, 0.5, 0.5, 0.4, 0.5, 0.5, 0.5, 0.5, 0.4, 0.5,
  0.5, 0.5, 0.5, 0.5, 0.6, 0.6, 0.7, 0.9, 1.0, 1.2,
  1.1, 0.9, 0.8, 0.7, 0.6, 0.6, 0.5, 0.5, 0.5, 0.5,
  0.5, 0.5, 0.6, 0.5, 0.5, 0.6, 0.6, 0.5, 0.6, 0.6,
  0.6, 0.6, 0.7, 0.6, 0.6, 0.7, 0.6, 0.6, 0.7, 0.7,
  0.7, 0.6, 0.7, 0.7, 0.8, 1.4, 1.5, 1.4, 1.2, 1.0,
  1.1, 1.3, 1.1, 1.0, 1.0, 1.1, 1.3, 1.0, 0.8, 0.6,
  0.6, 0.5, 0.5, 0.5, 0.6, 0.5, 0.5, 0.6, 0.5, 0.6,
  0.5, 0.5, 0.6, 0.5, 0.5, 0.6, 0.5, 0.5, 0.6, 0.5,
  0.6, 0.5, 0.6, 0.6, 0.7, 0.7, 0.7, 0.8, 0.9, 0.9,
  1.1, 1.5, 0.9, 0.7, 0.6, 0.6, 0.7, 0.6, 0.7, 0.7,
  0.7, 0.8, 0.8, 0.9, 0.9, 0.8, 0.8, 0.9, 0.8, 0.7,
  0.8, 0.7, 0.7, 0.7, 0.7, 0.7, 0.6, 0.7, 0.7, 0.7,
  0.8, 0.9, 1.1, 1.4, 1.7, 1.9, 2.0, 2.1, 1.8, 1.4,
  1.1, 0.8, 0.7, 0.6, 0.6, 0.6, 0.6, 0.7, 0.8, 0.9,
  1.2, 2.6, 4.6, 6.0,
];
const rmsfGreen3 = [
  4.6, 3.4, 2.2, 1.5, 1.3, 1.2, 1.9, 0.9, 0.7, 0.6,
  0.5, 0.5, 0.5, 0.4, 0.5, 0.5, 0.4, 0.5, 0.5, 0.4,
  0.5, 0.4, 0.5, 0.5, 0.5, 0.4, 0.5, 0.5, 0.5, 0.4,
  0.5, 0.5, 0.5, 0.6, 0.6, 0.6, 0.7, 0.8, 1.0, 1.1,
  1.0, 0.9, 0.8, 0.7, 0.6, 0.5, 0.5, 0.5, 0.4, 0.5,
  0.5, 0.5, 0.5, 0.6, 0.5, 0.5, 0.6, 0.6, 0.5, 0.6,
  0.6, 0.5, 0.6, 0.6, 0.6, 0.6, 0.6, 0.7, 0.6, 0.7,
  0.6, 0.7, 0.7, 0.7, 0.8, 1.0, 1.2, 1.3, 1.1, 1.0,
  1.0, 1.2, 1.0, 0.9, 0.9, 1.0, 1.1, 0.9, 0.7, 0.6,
  0.5, 0.5, 0.5, 0.5, 0.5, 0.6, 0.5, 0.5, 0.5, 0.5,
  0.5, 0.5, 0.5, 0.6, 0.5, 0.5, 0.5, 0.5, 0.5, 0.6,
  0.5, 0.5, 0.6, 0.6, 0.6, 0.7, 0.7, 0.7, 0.8, 0.9,
  1.0, 1.3, 0.8, 0.7, 0.6, 0.6, 0.6, 0.6, 0.7, 0.7,
  0.7, 0.7, 0.8, 0.8, 0.8, 0.8, 0.9, 0.8, 0.7, 0.7,
  0.7, 0.7, 0.7, 0.6, 0.7, 0.6, 0.6, 0.7, 0.7, 0.7,
  0.7, 0.8, 1.0, 1.2, 1.5, 1.7, 1.8, 1.9, 1.7, 1.3,
  1.0, 0.8, 0.7, 0.6, 0.6, 0.5, 0.6, 0.7, 0.8, 0.9,
  1.1, 2.3, 4.1, 5.6,
];

const rmsdGroups = [
  [rmsdBlack1, rmsdBlack2, rmsdBlack3],
  [rmsdRed1, rmsdRed2, rmsdRed3],
  [rmsdGreen1, rmsdGreen2, rmsdGreen3],
];
const rmsfGroups = [
  [rmsfBlack1, rmsfBlack2, rmsfBlack3],
  [rmsfRed1, rmsfRed2, rmsfRed3],
  [rmsfGreen1, rmsfGreen2, rmsfGreen3],
];

// ---------- Layout ----------
const W = 724;
const H = 817;
const FONT = '"Liberation Sans", Arial, Helvetica, sans-serif';
const AXIS = '#333333';

const topBox = { left: 68, right: 721, top: 3, bottom: 320 };
const botBox = { left: 71, right: 718, top: 436, bottom: 747 };

const xTop = d3.scaleLinear().domain([0, 80, 100]).range([92, 558, 697]);
const yTop = d3.scaleLinear().domain([0, 10]).range([307.7, 14.7]);
const xBot = d3.scaleLinear().domain([0, 150]).range([91, 617]);
const yBot = d3.scaleLinear().domain([0, 10]).range([735.7, 474]);

function Panel(props: {
  box: { left: number; right: number; top: number; bottom: number };
  x: d3.ScaleLinear<number, number>;
  y: d3.ScaleLinear<number, number>;
  xTicks: number[];
  paths: { d: string; color: string; width: number }[];
  xTitle: string;
  yTitle: string;
  letter: string;
  letterY: number;
  legendX: number;
  legendY: number;
  legendGap: number;
  legendFont: number;
  tickFont: number;
  yLabelOffset: number;
  yTitleX: number;
}) {
  const { box, x, y } = props;
  const tick = 7;
  const midX = (box.left + box.right) / 2;
  const midY = (box.top + box.bottom) / 2;
  return (
    <g>
      <text x={2} y={props.letterY} fontFamily={FONT} fontWeight="bold" fontSize={18} fill="#000">
        {props.letter}
      </text>
      {props.paths.map((p, i) => (
        <path
          key={i}
          d={p.d}
          fill="none"
          stroke={p.color}
          strokeWidth={p.width}
          strokeLinejoin="round"
          strokeLinecap="round"
        />
      ))}
      <rect
        x={box.left}
        y={box.top}
        width={box.right - box.left}
        height={box.bottom - box.top}
        fill="none"
        stroke={AXIS}
        strokeWidth={1}
      />
      {props.xTicks.map((t) => (
        <g key={'x' + t}>
          <line x1={x(t)} x2={x(t)} y1={box.bottom} y2={box.bottom + tick} stroke={AXIS} />
          <text
            x={x(t)}
            y={box.bottom + 31}
            textAnchor="middle"
            fontFamily={FONT}
            fontSize={props.tickFont}
            fill="#000"
          >
            {t}
          </text>
        </g>
      ))}
      {yTicks.map((t) => (
        <g key={'y' + t}>
          <line x1={box.left - tick} x2={box.left} y1={y(t)} y2={y(t)} stroke={AXIS} />
          <text
            transform={`translate(${box.left - props.yLabelOffset},${y(t)}) rotate(-90)`}
            textAnchor="middle"
            fontFamily={FONT}
            fontSize={props.tickFont}
            fill="#000"
          >
            {t}
          </text>
        </g>
      ))}
      <text
        x={midX}
        y={box.bottom + 63}
        textAnchor="middle"
        fontFamily={FONT}
        fontSize={props.tickFont}
        fill="#000"
      >
        {props.xTitle}
      </text>
      <text
        transform={`translate(${props.yTitleX},${midY}) rotate(-90)`}
        textAnchor="middle"
        fontFamily={FONT}
        fontSize={props.tickFont}
        fill="#000"
      >
        {props.yTitle}
      </text>
      {seriesNames.map((name, i) => {
        const ly = props.legendY + i * props.legendGap;
        return (
          <g key={name}>
            <line
              x1={props.legendX}
              x2={props.legendX + 19}
              y1={ly}
              y2={ly}
              stroke={seriesColors[i]}
              strokeWidth={1.2}
            />
            <text
              x={props.legendX + 29}
              y={ly}
              dy="0.35em"
              fontFamily={FONT}
              fontSize={props.legendFont}
              fill="#000"
            >
              {name}
            </text>
          </g>
        );
      })}
    </g>
  );
}

export default function App() {
  const topLine = d3
    .line<number>()
    .x((_, i) => xTop(i * rmsdTimeStep))
    .y((v) => yTop(v));
  const botLine = d3
    .line<number>()
    .x((_, i) => xBot(i + 1))
    .y((v) => yBot(v));

  const topPaths: { d: string; color: string; width: number }[] = [];
  rmsdGroups.forEach((grp, gi) =>
    grp.forEach((s) => topPaths.push({ d: topLine(s) || '', color: seriesColors[gi], width: 2 }))
  );
  const botPaths: { d: string; color: string; width: number }[] = [];
  rmsfGroups.forEach((grp, gi) =>
    grp.forEach((s) => botPaths.push({ d: botLine(s) || '', color: seriesColors[gi], width: 2.8 }))
  );

  return (
    <svg
      width={W}
      height={H}
      style={{ position: 'absolute', left: 0, top: 0, background: '#fff' }}
    >
      <rect x={0} y={0} width={W} height={H} fill="#fff" />
      <Panel
        box={topBox}
        x={xTop}
        y={yTop}
        xTicks={rmsdTicksX}
        paths={topPaths}
        xTitle="Time (ns)"
        yTitle="RMSD (Å)"
        letter="A"
        letterY={17}
        legendX={102}
        legendY={29}
        legendGap={12}
        legendFont={10}
        tickFont={13.5}
        yLabelOffset={19}
        yTitleX={17}
      />
      <Panel
        box={botBox}
        x={xBot}
        y={yBot}
        xTicks={rmsfTicksX}
        paths={botPaths}
        xTitle="Residue Position"
        yTitle="RMSF (Å)"
        letter="B"
        letterY={440}
        legendX={108}
        legendY={461}
        legendGap={12.5}
        legendFont={10.5}
        tickFont={13.5}
        yLabelOffset={26}
        yTitleX={20}
      />
    </svg>
  );
}
